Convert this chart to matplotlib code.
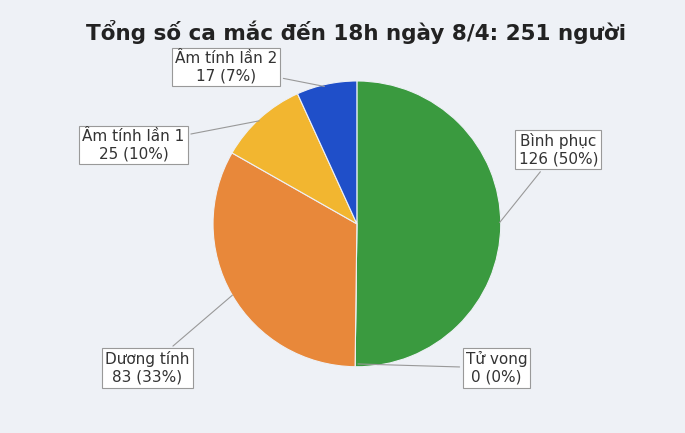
import matplotlib
matplotlib.use("Agg")
import matplotlib.pyplot as plt
import numpy as np

labels = ["Bình phục", "Tử vong", "Dương tính", "Âm tính lần 1", "Âm tính lần 2"]
values = [126, 0, 83, 25, 17]
pct = ["50%", "0%", "33%", "10%", "7%"]
colors = ["#3a9a3f", "#c0392b", "#e8883a", "#f2b630", "#1f4fc9"]
label_pos = [(0.815, 0.655), (0.725, 0.15), (0.215, 0.15), (0.195, 0.665), (0.33, 0.845)]
title = "Tổng số ca mắc đến 18h ngày 8/4: 251 người"

fig = plt.figure(figsize=(6.85, 4.33), dpi=100)
fig.patch.set_facecolor("#eef1f6")
ax = fig.add_axes([0.311, 0.153, 0.42, 0.66])
ax.set_facecolor("#eef1f6")
wedges, _ = ax.pie(values, colors=colors, startangle=90, counterclock=False,
                   wedgeprops=dict(edgecolor="#eef1f6", linewidth=0.8))
ax.set_aspect("auto")
ax.set_xlim(-1, 1); ax.set_ylim(-1, 1)

fig.text(0.52, 0.925, title, ha="center", va="center", fontsize=15.5,
         fontweight="bold", color="#222222")

for w, lab, v, p, pos in zip(wedges, labels, values, pct, label_pos):
    mid = np.deg2rad((w.theta1 + w.theta2) / 2)
    xy = (0.98 * np.cos(mid), 0.98 * np.sin(mid))
    ax.annotate(f"{lab}\n{v} ({p})", xy=xy, xycoords="data",
                xytext=pos, textcoords="figure fraction",
                ha="center", va="center", fontsize=11, color="#333333",
                bbox=dict(boxstyle="square,pad=0.2", fc="white", ec="#999999", lw=0.8),
                arrowprops=dict(arrowstyle="-", color="#999999", lw=0.8))

fig.savefig("out.png", dpi=100, facecolor=fig.get_facecolor())
